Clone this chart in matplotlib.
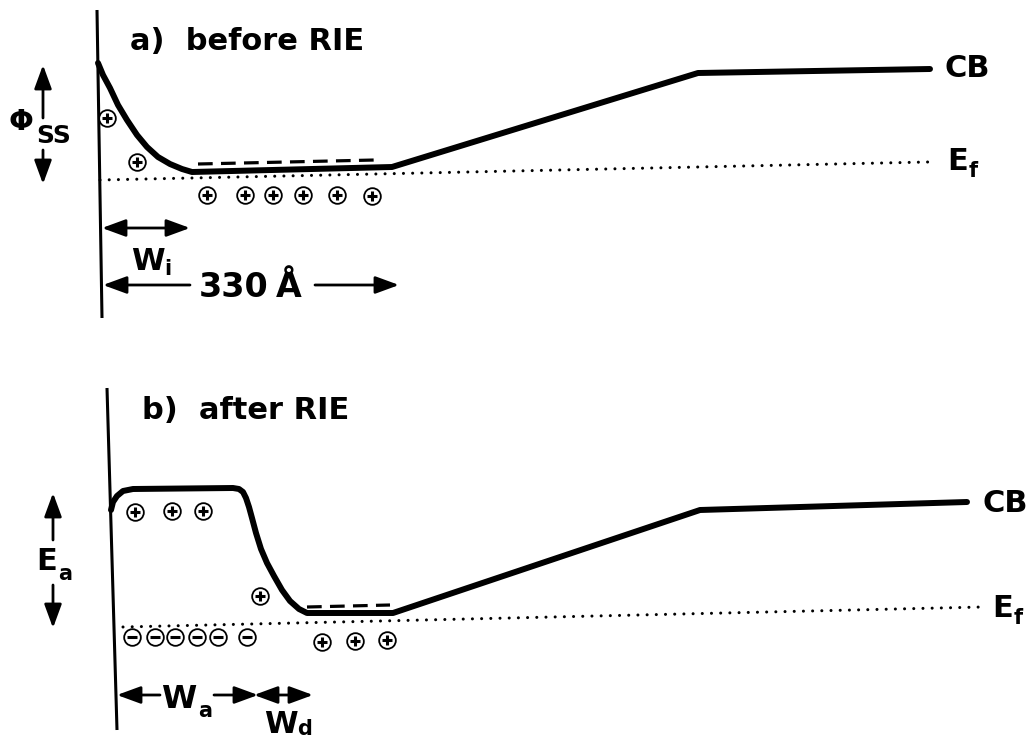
import matplotlib
matplotlib.use("Agg")
import matplotlib.pyplot as plt

plt.rcParams['font.family'] = ['DejaVu Sans']

# ---------------- data (drawing units: x to the right, y downward) ----------------
# panel a) before RIE
axis_a_x = [97, 102]
axis_a_y = [10, 318]
cb_a_x = [98, 103, 110, 118, 127, 137, 147, 158, 170, 182, 192, 392, 698, 930]
cb_a_y = [63, 75, 88, 105, 120, 135, 147, 157, 164, 169, 172, 167, 73, 69]
ef_a_x = [100, 928]
ef_a_y = [180, 162]
dash_a_x = [198, 375]
dash_a_y = [164, 160]
plus_a_x = [107, 137, 207, 245, 273, 303, 337, 372]
plus_a_y = [118, 162, 195, 195, 195, 195, 195, 196]

# panel b) after RIE
axis_b_x = [107, 117]
axis_b_y = [388, 730]
cb_b_x = [111, 113, 117, 123, 133, 233, 239, 243, 246, 249, 252, 256, 261, 267, 274, 282, 290, 299, 307, 393, 700, 967]
cb_b_y = [510, 502, 496, 491, 489, 488, 489, 492, 498, 507, 518, 533, 549, 563, 576, 590, 601, 609, 613, 613, 510, 502]
ef_b_x = [123, 982]
ef_b_y = [627, 607]
dash_b_x = [307, 390]
dash_b_y = [607, 605]
plus_b_x = [135, 172, 203, 260, 322, 355, 387]
plus_b_y = [512, 511, 511, 596, 642, 641, 640]
minus_b_x = [132, 155, 175, 197, 218, 247]
minus_b_y = [637, 637, 637, 637, 637, 637]

title_a = "a)  before RIE"
title_b = "b)  after RIE"

# ---------------- figure ----------------
fig = plt.figure(figsize=(10.34, 7.45), dpi=100)
ax = fig.add_axes([0, 0, 1, 1])
ax.set_xlim(0, 1034)
ax.set_ylim(745, 0)
ax.axis('off')

K = 'black'

def panel(axis_x, axis_y, cbx, cby, efx, efy, dx, dy):
    ax.plot(axis_x, axis_y, color=K, lw=2.2, solid_capstyle='butt')
    ax.plot(cbx, cby, color=K, lw=4.3, solid_joinstyle='round', solid_capstyle='round')
    ax.plot(efx, efy, color=K, lw=2.2, dashes=(0.01, 3.0), dash_capstyle='round')
    ax.plot(dx, dy, color=K, lw=2.3, dashes=(4.6, 2.6))

panel(axis_a_x, axis_a_y, cb_a_x, cb_a_y, ef_a_x, ef_a_y, dash_a_x, dash_a_y)
panel(axis_b_x, axis_b_y, cb_b_x, cb_b_y, ef_b_x, ef_b_y, dash_b_x, dash_b_y)

def charges(xs, ys, sign):
    ax.plot(xs, ys, ls='none', marker='o', ms=12, mfc='white', mec=K, mew=1.3, zorder=5)
    ax.plot(xs, ys, ls='none', marker='+' if sign > 0 else '_', ms=7, mec=K, mew=2.2, zorder=6)

charges(plus_a_x, plus_a_y, 1)
charges(plus_b_x, plus_b_y, 1)
charges(minus_b_x, minus_b_y, -1)

def arrow(x0, y0, x1, y1, style='-|>'):
    ax.annotate('', xy=(x1, y1), xytext=(x0, y0),
                arrowprops=dict(arrowstyle=style + ',head_length=0.6,head_width=0.22',
                                lw=2.0, color=K, mutation_scale=24,
                                shrinkA=0, shrinkB=0))

def txt(x, y, s, size):
    ax.text(x, y, s, fontsize=size, fontweight='bold', ha='left', va='baseline')

# titles
txt(130, 50, title_a, 22)
txt(142, 419, title_b, 22)

# CB / Ef labels
txt(945, 77, 'CB', 22)
txt(947, 170, 'E', 22)
txt(969, 177, 'f', 15)
txt(982, 512, 'CB', 22)
txt(992, 617, 'E', 22)
txt(1014, 624, 'f', 15)

# Phi_SS
arrow(43, 118, 43, 65)
arrow(43, 150, 43, 184)
txt(9, 130, 'Φ', 21)
txt(36, 143, 'SS', 18)

# E_a
arrow(53, 540, 53, 493)
arrow(53, 585, 53, 628)
txt(36, 570, 'E', 22)
txt(58, 580, 'a', 15)

# W_i
arrow(102, 228, 190, 228, '<|-|>')
txt(131, 270, 'W', 22)
txt(164, 275, 'i', 15)

# 330 A
arrow(190, 285, 103, 285)
txt(199, 297, '330', 24)
txt(276, 297, 'Å', 24)
arrow(315, 285, 399, 285)

# W_a, W_d
arrow(160, 695, 117, 695)
txt(161, 708, 'W', 23)
txt(198, 717, 'a', 15)
arrow(214, 695, 258, 695)
arrow(254, 695, 313, 695, '<|-|>')
txt(264, 733, 'W', 22)
txt(297, 735, 'd', 15)

fig.savefig('out.png', dpi=100)
